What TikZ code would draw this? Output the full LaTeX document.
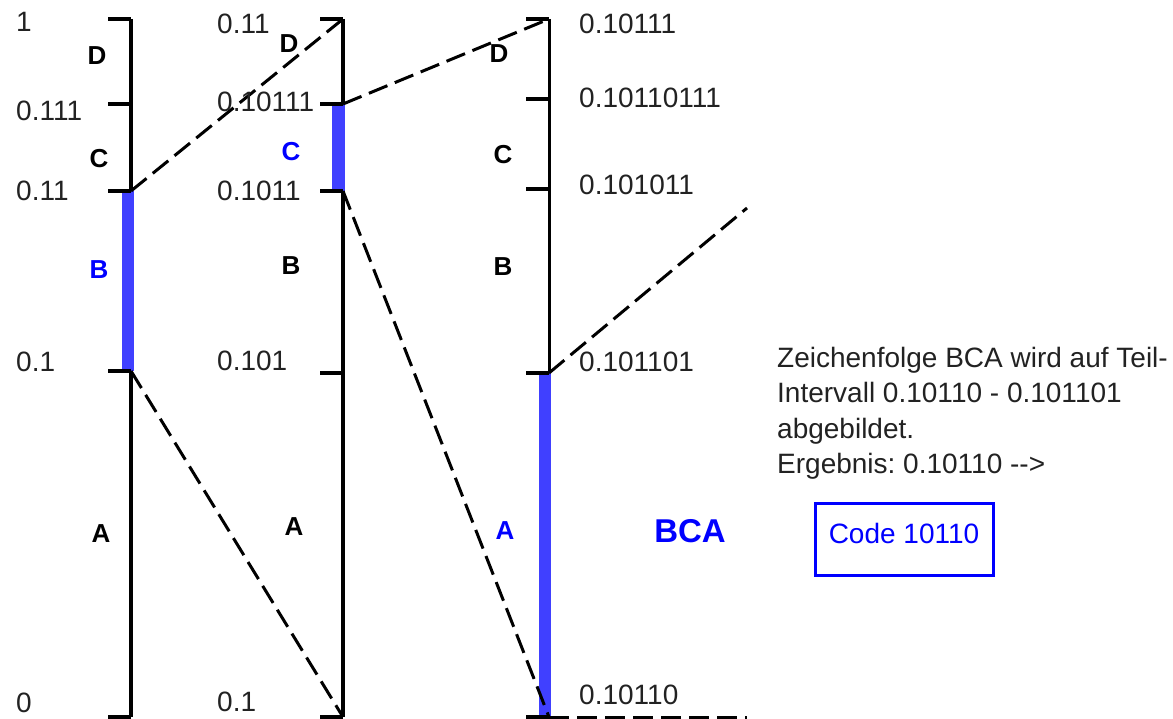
\documentclass[tikz,border=0pt]{standalone}
\usepackage{fontspec}
\setmainfont{Liberation Sans}
\frenchspacing
\definecolor{barblue}{RGB}{64,64,255}
\definecolor{txtblue}{RGB}{0,0,255}
\definecolor{valgray}{RGB}{34,34,34}
\tikzset{
  axisline/.style={line width=3.5pt},
  tickline/.style={line width=4pt},
  guide/.style={line width=3pt, dash pattern=on 20pt off 8pt},
  bar/.style={fill=barblue, draw=none},
  val/.style={anchor=west, inner sep=0pt, text=valgray, font=\fontsize{28}{32}\selectfont},
  sym/.style={inner sep=0pt, font=\bfseries\fontsize{26}{30}\selectfont},
  symblue/.style={sym, text=txtblue},
}
\begin{document}
\begin{tikzpicture}[x=1pt,y=-1pt]
\useasboundingbox (0,0) rectangle (1173,719);

% interval points on the three scales
\coordinate (a1) at (131,19);  \coordinate (a2) at (131,104);
\coordinate (a3) at (131,191); \coordinate (a4) at (131,371);
\coordinate (a5) at (131,717);
\coordinate (b1) at (343,19);  \coordinate (b2) at (343,104);
\coordinate (b3) at (343,191); \coordinate (b4) at (343,373);
\coordinate (b5) at (343,717);
\coordinate (c1) at (549,19);  \coordinate (c2) at (549,99);
\coordinate (c3) at (549,189); \coordinate (c4) at (549,373);
\coordinate (c5) at (549,717);
\coordinate (cout) at (747,208);
\coordinate (cend) at (747,717);

% scale lines
\draw[axisline] (a1) -- (a5);
\draw[axisline] (b1) -- (b5);
\draw[line width=3pt] (c1) -- (c5);

% selected sub-intervals
\fill[bar] (122,191) rectangle (133.5,371);
\fill[bar] (332,104) rectangle (344.5,191);
\fill[bar] (539,373) rectangle (550.5,717);

% tick marks
\foreach \p in {a1,a2,a3,a4,a5,b1,b2,b3,b4,b5,c1,c2,c3,c4,c5}
  \draw[tickline] ([xshift=-23pt]\p) -- (\p);

% zoom guides
\draw[guide] (a3) -- (b1);
\draw[guide] (a4) -- (b5);
\draw[guide] (b2) -- (c1);
\draw[guide] (b3) -- (c5);
\draw[guide] (c4) -- (cout);
\draw[guide] (c5) -- (cend);

% bounds of the first scale
\node[val] (va1) at (16,22)  {1};
\node[val] (va2) at (16,111) {0.111};
\node[val] (va3) at (16,191) {0.11};
\node[val] (va4) at (16,362) {0.1};
\node[val] (va5) at (16,703) {0};
% bounds of the second scale
\node[val] (vb1) at (217,24)  {0.11};
\node[val] (vb2) at (217,102) {0.10111};
\node[val] (vb3) at (217,191) {0.1011};
\node[val] (vb4) at (217,361) {0.101};
\node[val] (vb5) at (217,702) {0.1};
% bounds of the third scale
\node[val] (vc1) at (579,24)  {0.10111};
\node[val] (vc2) at (579,98)  {0.10110111};
\node[val] (vc3) at (579,185) {0.101011};
\node[val] (vc4) at (579,362) {0.101101};
\node[val] (vc5) at (579,695) {0.10110};

% symbols
\node[sym]     (sa4) at (97,56)   {D};
\node[sym]     (sa3) at (99,159)  {C};
\node[symblue] (sa2) at (99,270)  {B};
\node[sym]     (sa1) at (101,534) {A};
\node[sym]     (sb4) at (289,44)  {D};
\node[symblue] (sb3) at (291,152) {C};
\node[sym]     (sb2) at (291,266) {B};
\node[sym]     (sb1) at (294,527) {A};
\node[sym]     (sc4) at (499,54)  {D};
\node[sym]     (sc3) at (503,155) {C};
\node[sym]     (sc2) at (503,267) {B};
\node[symblue] (sc1) at (505,531) {A};
\node[inner sep=0pt, text=txtblue, font=\bfseries\fontsize{33}{38}\selectfont] (word) at (690,531) {BCA};

% explanation
\node[anchor=north west, inner sep=0pt, align=left, text=valgray,
      font=\fontsize{28}{35.3}\selectfont] (note) at (777,347)
  {Zeichenfolge BCA wird auf Teil-\\Intervall 0.10110 - 0.101101\\abgebildet.\\Ergebnis: 0.10110 {-}{-}>};

\node[draw=txtblue, line width=3pt, minimum width=178pt, minimum height=72pt,
      text depth=11pt, text=txtblue, font=\fontsize{28}{32}\selectfont] (code) at (904,539) {Code 10110};
\end{tikzpicture}
\end{document}
